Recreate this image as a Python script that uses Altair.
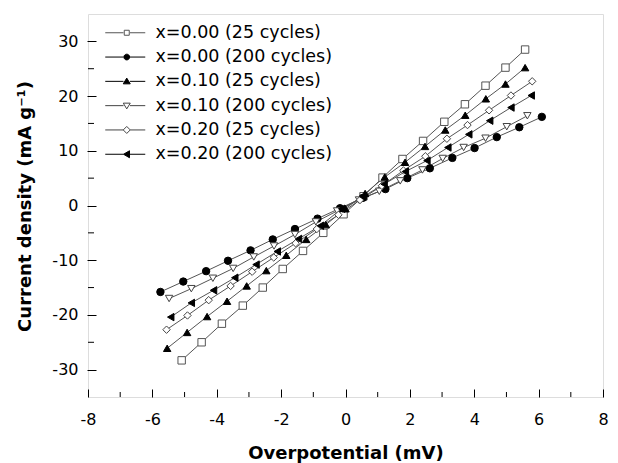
import altair as alt
import pandas as pd

names = ["x=0.00 (25 cycles)", "x=0.00 (200 cycles)", "x=0.10 (25 cycles)",
         "x=0.10 (200 cycles)", "x=0.20 (25 cycles)", "x=0.20 (200 cycles)"]

s1_x = [-5.09, -4.47, -3.84, -3.19, -2.57, -1.95, -1.32, -0.69, -0.06, 0.56, 1.15, 1.77, 2.41, 3.07, 3.71, 4.35, 4.97, 5.58]
s1_y = [-28.3, -25.0, -21.6, -18.3, -15.0, -11.6, -8.3, -5.0, -1.6, 1.7, 5.1, 8.5, 11.8, 15.3, 18.5, 21.9, 25.2, 28.5]

s2_x = [-5.75, -5.04, -4.33, -3.65, -2.95, -2.26, -1.57, -0.87, -0.17, 0.54, 1.24, 1.92, 2.62, 3.32, 4.01, 4.70, 5.40, 6.10]
s2_y = [-15.8, -13.9, -12.0, -10.1, -8.2, -6.2, -4.3, -2.4, -0.5, 1.4, 3.0, 5.0, 6.8, 8.7, 10.5, 12.5, 14.3, 16.2]

s3_x = [-5.54, -4.92, -4.30, -3.68, -3.07, -2.46, -1.84, -1.22, -0.61, 0.0, 0.61, 1.22, 1.85, 2.47, 3.10, 3.72, 4.36, 4.97, 5.58]
s3_y = [-26.1, -23.2, -20.3, -17.5, -14.7, -11.9, -9.1, -6.2, -3.5, -0.6, 2.2, 5.2, 7.9, 10.8, 13.8, 16.5, 19.5, 22.2, 25.2]

s4_x = [-5.48, -4.79, -4.12, -3.49, -2.85, -2.22, -1.57, -0.92, -0.26, 0.42, 1.05, 1.70, 2.39, 3.02, 3.67, 4.35, 5.01, 5.65]
s4_y = [-17.0, -15.2, -13.3, -11.5, -9.4, -7.4, -5.3, -3.0, -1.0, 1.0, 2.6, 4.5, 6.5, 8.6, 10.6, 12.3, 14.4, 16.4]

s5_x = [-5.56, -4.91, -4.25, -3.57, -2.90, -2.23, -1.55, -0.89, -0.22, 0.45, 1.13, 1.80, 2.48, 3.15, 3.79, 4.46, 5.14, 5.80]
s5_y = [-22.7, -20.1, -17.3, -14.7, -12.1, -9.5, -6.9, -4.3, -1.7, 1.0, 3.6, 6.4, 9.0, 12.2, 14.7, 17.4, 20.1, 22.7]

s6_x = [-5.43, -4.79, -4.10, -3.44, -2.78, -2.12, -1.46, -0.78, -0.12, 0.54, 1.20, 1.86, 2.53, 3.18, 3.83, 4.48, 5.14, 5.77]
s6_y = [-20.4, -17.8, -15.5, -13.2, -10.8, -8.4, -6.1, -3.7, -0.6, 1.6, 3.9, 6.2, 8.2, 10.6, 13.0, 15.5, 17.9, 20.1]

x_ticks = [-8, -6, -4, -2, 0, 2, 4, 6, 8]
x_minor = [-7, -5, -3, -1, 1, 3, 5, 7]
y_ticks = [-30, -20, -10, 0, 10, 20, 30]
y_minor = [-25, -15, -5, 5, 15, 25]

xs = [s1_x, s2_x, s3_x, s4_x, s5_x, s6_x]
ys = [s1_y, s2_y, s3_y, s4_y, s5_y, s6_y]
rows = []
for n, sx, sy in zip(names, xs, ys):
    for a, b in zip(sx, sy):
        rows.append({"series": n, "v": a, "c": b})
df = pd.DataFrame(rows)

plot_shapes = ["square", "circle", "triangle-up", "triangle-down", "diamond", "triangle-left"]
legend_shapes = [
    "M-8.6,0H-1.3M1.3,0H7.4M-1,-1H1V1H-1Z",
    "M-8.6,0H-1.3M1.3,0H7.4M-1.15,0A1.15,1.15 0 1,0 1.15,0A1.15,1.15 0 1,0 -1.15,0Z",
    "M-8.6,0H-1.3M1.3,0H7.4M0,-1.3L1.4,1.0H-1.4Z",
    "M-8.6,0H-1.3M1.3,0H7.4M0,1.3L1.4,-1.0H-1.4Z",
    "M-8.6,0H-1.4M1.4,0H7.4M0,-1.4L1.4,0L0,1.4L-1.4,0Z",
    "M-8.6,0H-1.3M1.1,0H7.4M-1.3,0L1.1,-1.4V1.4Z",
]
fills = ["white", "black", "black", "white", "white", "black"]
strokes = ["#555555", "black", "black", "#444444", "#444444", "black"]

FONT = "DejaVu Sans"
LABEL_EXPR = "'' + datum.value"
xs_ = alt.Scale(domain=[-8, 8], nice=False)
ys_ = alt.Scale(domain=[-35, 35], nice=False)

x_axis = alt.Axis(values=x_ticks, title="Overpotential (mV)", offset=-8, tickSize=8,
                  domain=False, grid=False, labelPadding=14, labelFont=FONT, labelFontSize=16,
                  labelColor="black", tickColor="black", titleFont=FONT, titleFontSize=18,
                  titleFontWeight="bold", titleColor="black", titlePadding=17, labelFlush=False,
                  labelExpr=LABEL_EXPR)
y_axis = alt.Axis(values=y_ticks, title="Current density (mA g⁻¹)", offset=-8, tickSize=9,
                  domain=False, grid=False, labelPadding=9, labelFont=FONT, labelFontSize=16,
                  labelColor="black", tickColor="black", titleFont=FONT, titleFontSize=18,
                  titleFontWeight="bold", titleColor="black", titlePadding=17, titleY=192,
                  labelExpr=LABEL_EXPR)

base = alt.Chart(df)
X = alt.X("v:Q", scale=xs_, axis=x_axis)
Y = alt.Y("c:Q", scale=ys_, axis=y_axis)

lines = base.mark_line(color="#555555", strokeWidth=1).encode(x=X, y=Y, detail="series:N")

points = base.mark_point(size=55, strokeWidth=1, opacity=1, fillOpacity=1).encode(
    x=X, y=Y,
    shape=alt.Shape("series:N", scale=alt.Scale(domain=names, range=plot_shapes), legend=None),
    fill=alt.Fill("series:N", scale=alt.Scale(domain=names, range=fills), legend=None),
    stroke=alt.Stroke("series:N", scale=alt.Scale(domain=names, range=strokes), legend=None),
)

leg = alt.Legend(title=None, orient="none", legendX=30, legendY=10, padding=0,
                 labelFont=FONT, labelFontSize=17.5, labelColor="black", symbolSize=25,
                 symbolStrokeWidth=1, labelOffset=20, rowPadding=5.3, symbolOpacity=1,
                 labelLimit=400)
legend_layer = base.transform_filter("false").mark_point(size=25, strokeWidth=1, opacity=1, fillOpacity=1).encode(
    x=X, y=Y,
    shape=alt.Shape("series:N", scale=alt.Scale(domain=names, range=legend_shapes), legend=leg),
    fill=alt.Fill("series:N", scale=alt.Scale(domain=names, range=fills), legend=leg),
    stroke=alt.Stroke("series:N", scale=alt.Scale(domain=names, range=strokes), legend=leg),
)

xminor_df = pd.DataFrame({"v": x_minor})
yminor_df = pd.DataFrame({"c": y_minor})
xminor = alt.Chart(xminor_df).mark_rule(color="black", strokeWidth=1).encode(
    x=alt.X("v:Q", scale=xs_, axis=x_axis), y=alt.value(383), y2=alt.value(378))
yminor = alt.Chart(yminor_df).mark_rule(color="black", strokeWidth=1).encode(
    y=alt.Y("c:Q", scale=ys_, axis=y_axis), x=alt.value(0), x2=alt.value(6))

chart = alt.layer(xminor, yminor, lines, points, legend_layer).resolve_scale(
    shape="independent", fill="independent", stroke="independent"
).properties(
    width=515, height=383,
    padding={"left": 80, "top": 6, "right": 7, "bottom": 66},
    autosize=alt.AutoSizeParams(type="none"),
).configure_view(stroke="black", strokeWidth=1.5).configure(background="white")

chart.save("out.html", embed_options={"renderer": "svg", "actions": False})
